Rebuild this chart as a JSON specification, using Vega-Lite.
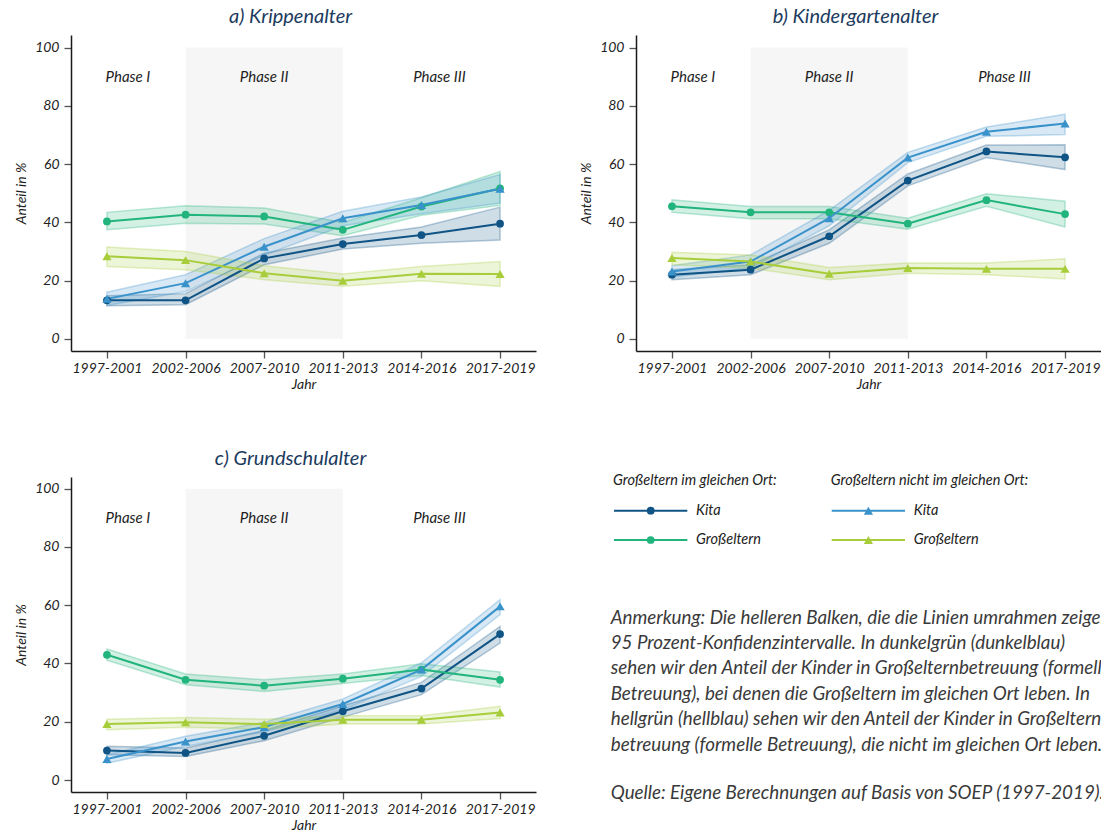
{
  "$schema": "https://vega.github.io/schema/vega-lite/v6.json",
  "background": "#ffffff",
  "padding": {"left": 14, "top": 7, "right": 0, "bottom": 0},
  "bounds": "flush",
  "columns": 2,
  "spacing": {"row": 126, "column": 100},
  "datasets": {
    "werte": [
      {"panel":"a","periode":"1997-2001","reihe":"Kita (gleicher Ort)","wert":13.2,"unten":11.3,"oben":14.8},
      {"panel":"a","periode":"2002-2006","reihe":"Kita (gleicher Ort)","wert":13.2,"unten":11.7,"oben":15.5},
      {"panel":"a","periode":"2007-2010","reihe":"Kita (gleicher Ort)","wert":27.6,"unten":25.4,"oben":29.4},
      {"panel":"a","periode":"2011-2013","reihe":"Kita (gleicher Ort)","wert":32.5,"unten":30.8,"oben":34.6},
      {"panel":"a","periode":"2014-2016","reihe":"Kita (gleicher Ort)","wert":35.6,"unten":32.8,"oben":38.4},
      {"panel":"a","periode":"2017-2019","reihe":"Kita (gleicher Ort)","wert":39.5,"unten":33.9,"oben":45.2},
      {"panel":"a","periode":"1997-2001","reihe":"Großeltern (gleicher Ort)","wert":40.3,"unten":37.4,"oben":43.4},
      {"panel":"a","periode":"2002-2006","reihe":"Großeltern (gleicher Ort)","wert":42.6,"unten":39.7,"oben":45.7},
      {"panel":"a","periode":"2007-2010","reihe":"Großeltern (gleicher Ort)","wert":42.0,"unten":39.4,"oben":44.9},
      {"panel":"a","periode":"2011-2013","reihe":"Großeltern (gleicher Ort)","wert":37.4,"unten":35.4,"oben":39.9},
      {"panel":"a","periode":"2014-2016","reihe":"Großeltern (gleicher Ort)","wert":45.4,"unten":42.4,"oben":48.4},
      {"panel":"a","periode":"2017-2019","reihe":"Großeltern (gleicher Ort)","wert":51.6,"unten":45.8,"oben":57.4},
      {"panel":"a","periode":"1997-2001","reihe":"Kita (anderer Ort)","wert":13.7,"unten":11.4,"oben":16.0},
      {"panel":"a","periode":"2002-2006","reihe":"Kita (anderer Ort)","wert":19.1,"unten":16.2,"oben":22.0},
      {"panel":"a","periode":"2007-2010","reihe":"Kita (anderer Ort)","wert":31.6,"unten":28.7,"oben":34.4},
      {"panel":"a","periode":"2011-2013","reihe":"Kita (anderer Ort)","wert":41.4,"unten":38.8,"oben":43.8},
      {"panel":"a","periode":"2014-2016","reihe":"Kita (anderer Ort)","wert":45.9,"unten":42.9,"oben":48.7},
      {"panel":"a","periode":"2017-2019","reihe":"Kita (anderer Ort)","wert":51.5,"unten":46.6,"oben":56.4},
      {"panel":"a","periode":"1997-2001","reihe":"Großeltern (anderer Ort)","wert":28.3,"unten":24.8,"oben":31.5},
      {"panel":"a","periode":"2002-2006","reihe":"Großeltern (anderer Ort)","wert":27.0,"unten":23.7,"oben":30.0},
      {"panel":"a","periode":"2007-2010","reihe":"Großeltern (anderer Ort)","wert":22.5,"unten":20.3,"oben":25.1},
      {"panel":"a","periode":"2011-2013","reihe":"Großeltern (anderer Ort)","wert":19.9,"unten":18.0,"oben":22.2},
      {"panel":"a","periode":"2014-2016","reihe":"Großeltern (anderer Ort)","wert":22.3,"unten":19.9,"oben":24.8},
      {"panel":"a","periode":"2017-2019","reihe":"Großeltern (anderer Ort)","wert":22.2,"unten":18.0,"oben":26.5},

      {"panel":"b","periode":"1997-2001","reihe":"Kita (gleicher Ort)","wert":22.0,"unten":20.3,"oben":23.7},
      {"panel":"b","periode":"2002-2006","reihe":"Kita (gleicher Ort)","wert":23.7,"unten":22.0,"oben":25.4},
      {"panel":"b","periode":"2007-2010","reihe":"Kita (gleicher Ort)","wert":35.2,"unten":32.8,"oben":37.4},
      {"panel":"b","periode":"2011-2013","reihe":"Kita (gleicher Ort)","wert":54.3,"unten":52.5,"oben":56.6},
      {"panel":"b","periode":"2014-2016","reihe":"Kita (gleicher Ort)","wert":64.3,"unten":62.2,"oben":66.5},
      {"panel":"b","periode":"2017-2019","reihe":"Kita (gleicher Ort)","wert":62.3,"unten":58.1,"oben":66.6},
      {"panel":"b","periode":"1997-2001","reihe":"Großeltern (gleicher Ort)","wert":45.5,"unten":43.4,"oben":47.7},
      {"panel":"b","periode":"2002-2006","reihe":"Großeltern (gleicher Ort)","wert":43.4,"unten":41.2,"oben":45.4},
      {"panel":"b","periode":"2007-2010","reihe":"Großeltern (gleicher Ort)","wert":43.4,"unten":41.2,"oben":45.4},
      {"panel":"b","periode":"2011-2013","reihe":"Großeltern (gleicher Ort)","wert":39.5,"unten":37.6,"oben":41.4},
      {"panel":"b","periode":"2014-2016","reihe":"Großeltern (gleicher Ort)","wert":47.6,"unten":45.5,"oben":49.8},
      {"panel":"b","periode":"2017-2019","reihe":"Großeltern (gleicher Ort)","wert":42.8,"unten":38.4,"oben":47.2},
      {"panel":"b","periode":"1997-2001","reihe":"Kita (anderer Ort)","wert":23.1,"unten":21.2,"oben":25.1},
      {"panel":"b","periode":"2002-2006","reihe":"Kita (anderer Ort)","wert":26.5,"unten":24.3,"oben":28.8},
      {"panel":"b","periode":"2007-2010","reihe":"Kita (anderer Ort)","wert":41.4,"unten":38.8,"oben":44.1},
      {"panel":"b","periode":"2011-2013","reihe":"Kita (anderer Ort)","wert":62.2,"unten":60.5,"oben":64.0},
      {"panel":"b","periode":"2014-2016","reihe":"Kita (anderer Ort)","wert":71.1,"unten":69.5,"oben":72.7},
      {"panel":"b","periode":"2017-2019","reihe":"Kita (anderer Ort)","wert":73.9,"unten":70.1,"oben":77.1},
      {"panel":"b","periode":"1997-2001","reihe":"Großeltern (anderer Ort)","wert":27.7,"unten":25.4,"oben":29.7},
      {"panel":"b","periode":"2002-2006","reihe":"Großeltern (anderer Ort)","wert":26.5,"unten":24.3,"oben":28.8},
      {"panel":"b","periode":"2007-2010","reihe":"Großeltern (anderer Ort)","wert":22.3,"unten":20.3,"oben":24.5},
      {"panel":"b","periode":"2011-2013","reihe":"Großeltern (anderer Ort)","wert":24.3,"unten":22.5,"oben":26.0},
      {"panel":"b","periode":"2014-2016","reihe":"Großeltern (anderer Ort)","wert":24.0,"unten":22.0,"oben":26.0},
      {"panel":"b","periode":"2017-2019","reihe":"Großeltern (anderer Ort)","wert":24.0,"unten":20.5,"oben":27.5},

      {"panel":"c","periode":"1997-2001","reihe":"Kita (gleicher Ort)","wert":10.1,"unten":8.7,"oben":11.6},
      {"panel":"c","periode":"2002-2006","reihe":"Kita (gleicher Ort)","wert":9.3,"unten":8.1,"oben":11.0},
      {"panel":"c","periode":"2007-2010","reihe":"Kita (gleicher Ort)","wert":15.2,"unten":13.5,"oben":17.0},
      {"panel":"c","periode":"2011-2013","reihe":"Kita (gleicher Ort)","wert":23.6,"unten":21.6,"oben":25.5},
      {"panel":"c","periode":"2014-2016","reihe":"Kita (gleicher Ort)","wert":31.4,"unten":29.3,"oben":33.5},
      {"panel":"c","periode":"2017-2019","reihe":"Kita (gleicher Ort)","wert":50.1,"unten":47.0,"oben":52.7},
      {"panel":"c","periode":"1997-2001","reihe":"Großeltern (gleicher Ort)","wert":43.0,"unten":41.1,"oben":45.0},
      {"panel":"c","periode":"2002-2006","reihe":"Großeltern (gleicher Ort)","wert":34.4,"unten":32.7,"oben":36.4},
      {"panel":"c","periode":"2007-2010","reihe":"Großeltern (gleicher Ort)","wert":32.4,"unten":30.4,"oben":34.4},
      {"panel":"c","periode":"2011-2013","reihe":"Großeltern (gleicher Ort)","wert":34.8,"unten":33.1,"oben":36.4},
      {"panel":"c","periode":"2014-2016","reihe":"Großeltern (gleicher Ort)","wert":37.9,"unten":35.9,"oben":39.9},
      {"panel":"c","periode":"2017-2019","reihe":"Großeltern (gleicher Ort)","wert":34.4,"unten":31.9,"oben":37.1},
      {"panel":"c","periode":"1997-2001","reihe":"Kita (anderer Ort)","wert":7.2,"unten":5.8,"oben":8.7},
      {"panel":"c","periode":"2002-2006","reihe":"Kita (anderer Ort)","wert":13.2,"unten":11.6,"oben":15.0},
      {"panel":"c","periode":"2007-2010","reihe":"Kita (anderer Ort)","wert":18.2,"unten":16.5,"oben":19.8},
      {"panel":"c","periode":"2011-2013","reihe":"Kita (anderer Ort)","wert":26.1,"unten":24.1,"oben":27.8},
      {"panel":"c","periode":"2014-2016","reihe":"Kita (anderer Ort)","wert":37.9,"unten":35.6,"oben":40.2},
      {"panel":"c","periode":"2017-2019","reihe":"Kita (anderer Ort)","wert":59.6,"unten":56.8,"oben":61.9},
      {"panel":"c","periode":"1997-2001","reihe":"Großeltern (anderer Ort)","wert":19.2,"unten":17.3,"oben":20.9},
      {"panel":"c","periode":"2002-2006","reihe":"Großeltern (anderer Ort)","wert":19.8,"unten":18.1,"oben":21.5},
      {"panel":"c","periode":"2007-2010","reihe":"Großeltern (anderer Ort)","wert":19.2,"unten":17.5,"oben":20.9},
      {"panel":"c","periode":"2011-2013","reihe":"Großeltern (anderer Ort)","wert":20.7,"unten":19.2,"oben":22.1},
      {"panel":"c","periode":"2014-2016","reihe":"Großeltern (anderer Ort)","wert":20.7,"unten":19.2,"oben":22.1},
      {"panel":"c","periode":"2017-2019","reihe":"Großeltern (anderer Ort)","wert":23.2,"unten":21.1,"oben":25.3}
    ],
    "phasen": [
      {"phase":"Phase I","anker":"1997-2001","beginn":"1997-2001","ende":"2002-2006"},
      {"phase":"Phase II","anker":"2007-2010","beginn":"2002-2006","ende":"2011-2013"},
      {"phase":"Phase III","anker":"2014-2016","beginn":"2011-2013","ende":"2017-2019"}
    ],
    "legende": [
      {"gruppe":"gleich","zeile":"Kita","reihe":"Kita (gleicher Ort)","label":"Kita"},
      {"gruppe":"gleich","zeile":"Großeltern","reihe":"Großeltern (gleicher Ort)","label":"Großeltern"},
      {"gruppe":"nicht gleich","zeile":"Kita","reihe":"Kita (anderer Ort)","label":"Kita"},
      {"gruppe":"nicht gleich","zeile":"Großeltern","reihe":"Großeltern (anderer Ort)","label":"Großeltern"}
    ],
    "legendenkopf": [
      {"gruppe":"gleich","zeile":"Kopf","text":"Großeltern im gleichen Ort:"},
      {"gruppe":"nicht gleich","zeile":"Kopf","text":"Großeltern nicht im gleichen Ort:"}
    ]
  },
  "concat": [
    {
      "width": 465, "height": 316,
      "title": {"text": "a) Krippenalter"},
      "layer": [
        {"data": {"name": "phasen"}, "transform": [{"filter": "datum.phase == 'Phase II'"}],
         "mark": {"type": "rect", "fill": "#eeeeee", "fillOpacity": 0.55},
         "encoding": {
           "x": {"field": "beginn", "type": "ordinal", "title": "Jahr", "scale": {"type": "point", "domain": ["1997-2001","2002-2006","2007-2010","2011-2013","2014-2016","2017-2019"], "padding": 0.457}},
           "x2": {"field": "ende"},
           "y": {"datum": 0, "type": "quantitative", "title": "Anteil in %", "scale": {"domain": [-4.2, 104.3], "nice": false, "zero": false}},
           "y2": {"datum": 100}}},
        {"data": {"name": "phasen"}, "transform": [{"filter": "datum.phase == 'Phase I'"}],
         "mark": {"type": "text", "dx": 21, "font": "Lato", "fontStyle": "italic", "fontSize": 15, "color": "#1e1e1e"},
         "encoding": {"x": {"field": "anker", "type": "ordinal", "title": "Jahr"}, "y": {"datum": 90, "type": "quantitative", "title": "Anteil in %"}, "text": {"field": "phase"}}},
        {"data": {"name": "phasen"}, "transform": [{"filter": "datum.phase == 'Phase II'"}],
         "mark": {"type": "text", "dx": 0, "font": "Lato", "fontStyle": "italic", "fontSize": 15, "color": "#1e1e1e"},
         "encoding": {"x": {"field": "anker", "type": "ordinal", "title": "Jahr"}, "y": {"datum": 90, "type": "quantitative", "title": "Anteil in %"}, "text": {"field": "phase"}}},
        {"data": {"name": "phasen"}, "transform": [{"filter": "datum.phase == 'Phase III'"}],
         "mark": {"type": "text", "dx": 18, "font": "Lato", "fontStyle": "italic", "fontSize": 15, "color": "#1e1e1e"},
         "encoding": {"x": {"field": "anker", "type": "ordinal", "title": "Jahr"}, "y": {"datum": 90, "type": "quantitative", "title": "Anteil in %"}, "text": {"field": "phase"}}},
        {"data": {"name": "werte"}, "transform": [{"filter": "datum.panel == 'a'"}],
         "mark": {"type": "area", "fillOpacity": 0.2, "strokeOpacity": 0.3, "strokeWidth": 1.5},
         "encoding": {
           "x": {"field": "periode", "type": "ordinal", "title": "Jahr"},
           "y": {"field": "unten", "type": "quantitative", "title": "Anteil in %"},
           "y2": {"field": "oben"},
           "color": {"field": "reihe", "type": "nominal", "legend": null, "scale": {"domain": ["Kita (gleicher Ort)","Großeltern (gleicher Ort)","Kita (anderer Ort)","Großeltern (anderer Ort)"], "range": ["#0f5485","#21b47c","#3a92cb","#a7cd3b"]}},
           "stroke": {"field": "reihe", "type": "nominal", "legend": null, "scale": {"domain": ["Kita (gleicher Ort)","Großeltern (gleicher Ort)","Kita (anderer Ort)","Großeltern (anderer Ort)"], "range": ["#0f5485","#21b47c","#3a92cb","#a7cd3b"]}}}},
        {"data": {"name": "werte"}, "transform": [{"filter": "datum.panel == 'a'"}],
         "mark": {"type": "line", "strokeWidth": 2},
         "encoding": {
           "x": {"field": "periode", "type": "ordinal", "title": "Jahr"},
           "y": {"field": "wert", "type": "quantitative", "title": "Anteil in %"},
           "color": {"field": "reihe", "type": "nominal", "legend": null}}},
        {"data": {"name": "werte"}, "transform": [{"filter": "datum.panel == 'a' && indexof(datum.reihe, 'gleicher') >= 0"}],
         "mark": {"type": "point", "filled": true, "opacity": 1, "size": 60, "shape": "circle"},
         "encoding": {
           "x": {"field": "periode", "type": "ordinal", "title": "Jahr"},
           "y": {"field": "wert", "type": "quantitative", "title": "Anteil in %"},
           "color": {"field": "reihe", "type": "nominal", "legend": null}}},
        {"data": {"name": "werte"}, "transform": [{"filter": "datum.panel == 'a' && indexof(datum.reihe, 'anderer') >= 0"}],
         "mark": {"type": "point", "filled": true, "opacity": 1, "size": 85, "shape": "triangle-up"},
         "encoding": {
           "x": {"field": "periode", "type": "ordinal", "title": "Jahr"},
           "y": {"field": "wert", "type": "quantitative", "title": "Anteil in %"},
           "color": {"field": "reihe", "type": "nominal", "legend": null}}}
      ]
    },
    {
      "width": 465, "height": 316,
      "title": {"text": "b) Kindergartenalter"},
      "layer": [
        {"data": {"name": "phasen"}, "transform": [{"filter": "datum.phase == 'Phase II'"}],
         "mark": {"type": "rect", "fill": "#eeeeee", "fillOpacity": 0.55},
         "encoding": {
           "x": {"field": "beginn", "type": "ordinal", "title": "Jahr", "scale": {"type": "point", "domain": ["1997-2001","2002-2006","2007-2010","2011-2013","2014-2016","2017-2019"], "padding": 0.457}},
           "x2": {"field": "ende"},
           "y": {"datum": 0, "type": "quantitative", "title": "Anteil in %", "scale": {"domain": [-4.2, 104.3], "nice": false, "zero": false}},
           "y2": {"datum": 100}}},
        {"data": {"name": "phasen"}, "transform": [{"filter": "datum.phase == 'Phase I'"}],
         "mark": {"type": "text", "dx": 21, "font": "Lato", "fontStyle": "italic", "fontSize": 15, "color": "#1e1e1e"},
         "encoding": {"x": {"field": "anker", "type": "ordinal", "title": "Jahr"}, "y": {"datum": 90, "type": "quantitative", "title": "Anteil in %"}, "text": {"field": "phase"}}},
        {"data": {"name": "phasen"}, "transform": [{"filter": "datum.phase == 'Phase II'"}],
         "mark": {"type": "text", "dx": 0, "font": "Lato", "fontStyle": "italic", "fontSize": 15, "color": "#1e1e1e"},
         "encoding": {"x": {"field": "anker", "type": "ordinal", "title": "Jahr"}, "y": {"datum": 90, "type": "quantitative", "title": "Anteil in %"}, "text": {"field": "phase"}}},
        {"data": {"name": "phasen"}, "transform": [{"filter": "datum.phase == 'Phase III'"}],
         "mark": {"type": "text", "dx": 18, "font": "Lato", "fontStyle": "italic", "fontSize": 15, "color": "#1e1e1e"},
         "encoding": {"x": {"field": "anker", "type": "ordinal", "title": "Jahr"}, "y": {"datum": 90, "type": "quantitative", "title": "Anteil in %"}, "text": {"field": "phase"}}},
        {"data": {"name": "werte"}, "transform": [{"filter": "datum.panel == 'b'"}],
         "mark": {"type": "area", "fillOpacity": 0.2, "strokeOpacity": 0.3, "strokeWidth": 1.5},
         "encoding": {
           "x": {"field": "periode", "type": "ordinal", "title": "Jahr"},
           "y": {"field": "unten", "type": "quantitative", "title": "Anteil in %"},
           "y2": {"field": "oben"},
           "color": {"field": "reihe", "type": "nominal", "legend": null, "scale": {"domain": ["Kita (gleicher Ort)","Großeltern (gleicher Ort)","Kita (anderer Ort)","Großeltern (anderer Ort)"], "range": ["#0f5485","#21b47c","#3a92cb","#a7cd3b"]}},
           "stroke": {"field": "reihe", "type": "nominal", "legend": null, "scale": {"domain": ["Kita (gleicher Ort)","Großeltern (gleicher Ort)","Kita (anderer Ort)","Großeltern (anderer Ort)"], "range": ["#0f5485","#21b47c","#3a92cb","#a7cd3b"]}}}},
        {"data": {"name": "werte"}, "transform": [{"filter": "datum.panel == 'b'"}],
         "mark": {"type": "line", "strokeWidth": 2},
         "encoding": {
           "x": {"field": "periode", "type": "ordinal", "title": "Jahr"},
           "y": {"field": "wert", "type": "quantitative", "title": "Anteil in %"},
           "color": {"field": "reihe", "type": "nominal", "legend": null}}},
        {"data": {"name": "werte"}, "transform": [{"filter": "datum.panel == 'b' && indexof(datum.reihe, 'gleicher') >= 0"}],
         "mark": {"type": "point", "filled": true, "opacity": 1, "size": 60, "shape": "circle"},
         "encoding": {
           "x": {"field": "periode", "type": "ordinal", "title": "Jahr"},
           "y": {"field": "wert", "type": "quantitative", "title": "Anteil in %"},
           "color": {"field": "reihe", "type": "nominal", "legend": null}}},
        {"data": {"name": "werte"}, "transform": [{"filter": "datum.panel == 'b' && indexof(datum.reihe, 'anderer') >= 0"}],
         "mark": {"type": "point", "filled": true, "opacity": 1, "size": 85, "shape": "triangle-up"},
         "encoding": {
           "x": {"field": "periode", "type": "ordinal", "title": "Jahr"},
           "y": {"field": "wert", "type": "quantitative", "title": "Anteil in %"},
           "color": {"field": "reihe", "type": "nominal", "legend": null}}}
      ]
    },
    {
      "width": 465, "height": 315,
      "title": {"text": "c) Grundschulalter"},
      "layer": [
        {"data": {"name": "phasen"}, "transform": [{"filter": "datum.phase == 'Phase II'"}],
         "mark": {"type": "rect", "fill": "#eeeeee", "fillOpacity": 0.55},
         "encoding": {
           "x": {"field": "beginn", "type": "ordinal", "title": "Jahr", "scale": {"type": "point", "domain": ["1997-2001","2002-2006","2007-2010","2011-2013","2014-2016","2017-2019"], "padding": 0.457}},
           "x2": {"field": "ende"},
           "y": {"datum": 0, "type": "quantitative", "title": "Anteil in %", "scale": {"domain": [-4.1, 104.0], "nice": false, "zero": false}},
           "y2": {"datum": 100}}},
        {"data": {"name": "phasen"}, "transform": [{"filter": "datum.phase == 'Phase I'"}],
         "mark": {"type": "text", "dx": 21, "font": "Lato", "fontStyle": "italic", "fontSize": 15, "color": "#1e1e1e"},
         "encoding": {"x": {"field": "anker", "type": "ordinal", "title": "Jahr"}, "y": {"datum": 90, "type": "quantitative", "title": "Anteil in %"}, "text": {"field": "phase"}}},
        {"data": {"name": "phasen"}, "transform": [{"filter": "datum.phase == 'Phase II'"}],
         "mark": {"type": "text", "dx": 0, "font": "Lato", "fontStyle": "italic", "fontSize": 15, "color": "#1e1e1e"},
         "encoding": {"x": {"field": "anker", "type": "ordinal", "title": "Jahr"}, "y": {"datum": 90, "type": "quantitative", "title": "Anteil in %"}, "text": {"field": "phase"}}},
        {"data": {"name": "phasen"}, "transform": [{"filter": "datum.phase == 'Phase III'"}],
         "mark": {"type": "text", "dx": 18, "font": "Lato", "fontStyle": "italic", "fontSize": 15, "color": "#1e1e1e"},
         "encoding": {"x": {"field": "anker", "type": "ordinal", "title": "Jahr"}, "y": {"datum": 90, "type": "quantitative", "title": "Anteil in %"}, "text": {"field": "phase"}}},
        {"data": {"name": "werte"}, "transform": [{"filter": "datum.panel == 'c'"}],
         "mark": {"type": "area", "fillOpacity": 0.2, "strokeOpacity": 0.3, "strokeWidth": 1.5},
         "encoding": {
           "x": {"field": "periode", "type": "ordinal", "title": "Jahr"},
           "y": {"field": "unten", "type": "quantitative", "title": "Anteil in %"},
           "y2": {"field": "oben"},
           "color": {"field": "reihe", "type": "nominal", "legend": null, "scale": {"domain": ["Kita (gleicher Ort)","Großeltern (gleicher Ort)","Kita (anderer Ort)","Großeltern (anderer Ort)"], "range": ["#0f5485","#21b47c","#3a92cb","#a7cd3b"]}},
           "stroke": {"field": "reihe", "type": "nominal", "legend": null, "scale": {"domain": ["Kita (gleicher Ort)","Großeltern (gleicher Ort)","Kita (anderer Ort)","Großeltern (anderer Ort)"], "range": ["#0f5485","#21b47c","#3a92cb","#a7cd3b"]}}}},
        {"data": {"name": "werte"}, "transform": [{"filter": "datum.panel == 'c'"}],
         "mark": {"type": "line", "strokeWidth": 2},
         "encoding": {
           "x": {"field": "periode", "type": "ordinal", "title": "Jahr"},
           "y": {"field": "wert", "type": "quantitative", "title": "Anteil in %"},
           "color": {"field": "reihe", "type": "nominal", "legend": null}}},
        {"data": {"name": "werte"}, "transform": [{"filter": "datum.panel == 'c' && indexof(datum.reihe, 'gleicher') >= 0"}],
         "mark": {"type": "point", "filled": true, "opacity": 1, "size": 60, "shape": "circle"},
         "encoding": {
           "x": {"field": "periode", "type": "ordinal", "title": "Jahr"},
           "y": {"field": "wert", "type": "quantitative", "title": "Anteil in %"},
           "color": {"field": "reihe", "type": "nominal", "legend": null}}},
        {"data": {"name": "werte"}, "transform": [{"filter": "datum.panel == 'c' && indexof(datum.reihe, 'anderer') >= 0"}],
         "mark": {"type": "point", "filled": true, "opacity": 1, "size": 85, "shape": "triangle-up"},
         "encoding": {
           "x": {"field": "periode", "type": "ordinal", "title": "Jahr"},
           "y": {"field": "wert", "type": "quantitative", "title": "Anteil in %"},
           "color": {"field": "reihe", "type": "nominal", "legend": null}}}
      ]
    },
    {
      "width": 465, "height": 60,
      "title": {
        "text": [
          "Anmerkung: Die helleren Balken, die die Linien umrahmen zeigen die",
          "95 Prozent-Konfidenzintervalle. In dunkelgrün (dunkelblau)",
          "sehen wir den Anteil der Kinder in Großelternbetreuung (formeller",
          "Betreuung), bei denen die Großeltern im gleichen Ort leben. In",
          "hellgrün (hellblau) sehen wir den Anteil der Kinder in Großeltern-",
          "betreuung (formelle Betreuung), die nicht im gleichen Ort leben."
        ],
        "subtitle": "Quelle: Eigene Berechnungen auf Basis von SOEP (1997-2019).",
        "orient": "bottom", "anchor": "start", "frame": "group", "dx": -25.3, "offset": 62, "baseline": "top",
        "font": "Lato", "fontSize": 18.8, "fontStyle": "italic", "fontWeight": "normal", "color": "#3a3a3a", "lineHeight": 25.4,
        "subtitleFont": "Lato", "subtitleFontSize": 18.8, "subtitleFontStyle": "italic", "subtitleFontWeight": "normal", "subtitleColor": "#3a3a3a", "subtitlePadding": 30
      },
      "layer": [
        {"data": {"name": "legende"},
         "mark": {"type": "rule", "strokeWidth": 2, "x2Offset": 73.3},
         "encoding": {
           "x": {"field": "gruppe", "type": "nominal", "axis": null, "scale": {"type": "point", "domain": ["gleich","nicht gleich"], "range": [-22, 195.7], "padding": 0}},
           "x2": {"field": "gruppe"},
           "y": {"field": "zeile", "type": "nominal", "axis": null, "scale": {"type": "point", "domain": ["Kopf","Kita","Großeltern"], "range": [4.4, 63], "padding": 0}},
           "color": {"field": "reihe", "type": "nominal", "legend": null}}},
        {"data": {"name": "legende"}, "transform": [{"filter": "datum.gruppe == 'gleich'"}],
         "mark": {"type": "point", "filled": true, "opacity": 1, "size": 60, "shape": "circle", "xOffset": 36.7},
         "encoding": {
           "x": {"field": "gruppe", "type": "nominal", "axis": null},
           "y": {"field": "zeile", "type": "nominal", "axis": null},
           "color": {"field": "reihe", "type": "nominal", "legend": null}}},
        {"data": {"name": "legende"}, "transform": [{"filter": "datum.gruppe == 'nicht gleich'"}],
         "mark": {"type": "point", "filled": true, "opacity": 1, "size": 85, "shape": "triangle-up", "xOffset": 36.7},
         "encoding": {
           "x": {"field": "gruppe", "type": "nominal", "axis": null},
           "y": {"field": "zeile", "type": "nominal", "axis": null},
           "color": {"field": "reihe", "type": "nominal", "legend": null}}},
        {"data": {"name": "legende"},
         "mark": {"type": "text", "dx": 82, "align": "left", "baseline": "middle", "font": "Lato", "fontStyle": "italic", "fontSize": 14.5, "color": "#222222"},
         "encoding": {
           "x": {"field": "gruppe", "type": "nominal", "axis": null},
           "y": {"field": "zeile", "type": "nominal", "axis": null},
           "text": {"field": "label"}}},
        {"data": {"name": "legendenkopf"},
         "mark": {"type": "text", "dx": -1, "align": "left", "baseline": "middle", "font": "Lato", "fontStyle": "italic", "fontSize": 14.5, "color": "#222222"},
         "encoding": {
           "x": {"field": "gruppe", "type": "nominal", "axis": null},
           "y": {"field": "zeile", "type": "nominal", "axis": null},
           "text": {"field": "text"}}}
      ]
    }
  ],
  "config": {
    "font": "Lato",
    "view": {"stroke": null},
    "axis": {
      "labelFont": "Lato", "labelFontStyle": "italic", "labelFontSize": 14, "labelColor": "#1e1e1e",
      "titleFont": "Lato", "titleFontStyle": "italic", "titleFontWeight": "normal", "titleFontSize": 14, "titleColor": "#1e1e1e",
      "domainColor": "#1a1a1a", "domainWidth": 1.5, "tickColor": "#555555", "tickSize": 7, "tickWidth": 1.3, "labelPadding": 3
    },
    "axisX": {"grid": false, "labelAngle": 0, "labelOverlap": false, "titlePadding": 2},
    "axisY": {"gridColor": "#deeded", "gridWidth": 1.5, "tickCount": 6, "labelPadding": 5, "titlePadding": 6},
    "title": {"font": "Lato", "fontStyle": "italic", "fontWeight": "normal", "fontSize": 20, "color": "#1c3b5e", "anchor": "middle", "dx": -13, "offset": 8}
  }
}
